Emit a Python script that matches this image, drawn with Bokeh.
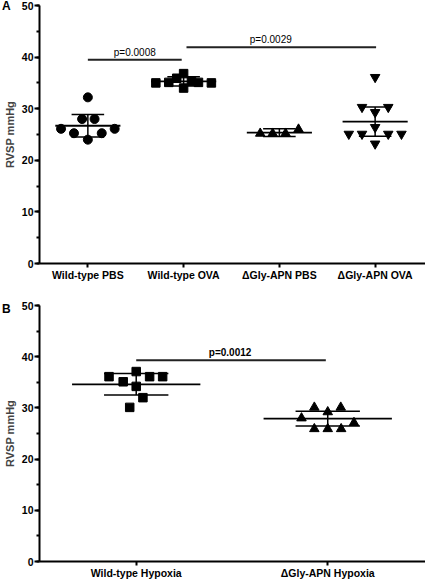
from bokeh.plotting import figure
from bokeh.models import Range1d, FixedTicker, SingleIntervalTicker, Div
from bokeh.layouts import column
from bokeh.embed import file_html
from bokeh.resources import INLINE
from bokeh.core.properties import value

# ---------------- Panel A data ----------------
a_categories = ["Wild-type PBS", "Wild-type OVA", "\u0394Gly-APN PBS", "\u0394Gly-APN OVA"]
a_markers = ["circle", "square", "triangle", "inverted_triangle"]

a_wt_pbs = [32.2, 28.0, 28.0, 26.1, 26.1, 25.25, 25.25, 24.0]
a_wt_pbs_dx = [0.0, -0.06, 0.07, -0.28, 0.28, -0.145, 0.145, 0.0]

a_wt_ova = [35.0, 35.1, 35.9, 36.8, 34.0, 35.3, 35.1, 35.0]
a_wt_ova_dx = [-0.29, -0.155, -0.072, 0.0, 0.0, 0.082, 0.155, 0.29]

a_ko_pbs = [25.2, 25.2, 25.2, 26.0]
a_ko_pbs_dx = [-0.2, -0.07, 0.065, 0.2]

a_ko_ova = [36.1, 30.3, 30.3, 29.3, 26.4, 25.1, 25.1, 25.1, 25.1, 23.2]
a_ko_ova_dx = [0.0, -0.137, 0.137, 0.0, 0.0, -0.275, -0.137, 0.137, 0.275, 0.0]

a_means = [26.7, 35.3, 25.35, 27.5]
a_sds = [2.2, 0.9, 0.75, 2.85]

a_sig_x0 = [1.0, 2.03]
a_sig_x1 = [1.98, 4.01]
a_sig_y = [39.5, 41.9]
a_sig_label_x = [1.49, 2.91]
a_sig_text = ["p=0.0008", "p=0.0029"]

# ---------------- Panel B data ----------------
b_categories = ["Wild-type Hypoxia", "\u0394Gly-APN Hypoxia"]
b_markers = ["square", "triangle"]

b_wt_hyp = [36.1, 35.1, 37.1, 34.2, 36.1, 36.1, 32.0, 30.1]
b_wt_hyp_dx = [-0.142, -0.068, 0.0, 0.0, 0.07, 0.138, 0.035, -0.034]

b_ko_hyp = [30.1, 30.1, 29.2, 28.0, 27.1, 25.9, 25.9, 25.9]
b_ko_hyp_dx = [-0.07, 0.068, 0.0, -0.137, 0.137, -0.07, 0.0, 0.07]

b_means = [34.6, 27.9]
b_sds = [2.1, 1.45]

b_sig_x0 = [1.0]
b_sig_x1 = [1.99]
b_sig_y = [39.3]
b_sig_label_x = [1.49]
b_sig_text = ["p=0.0012"]

panel_letters = ["A", "B"]
y_label = "RVSP mmHg"
FONT = "Liberation Sans"


def make_panel(cats, markers, groups, means, sds, sig, x_end, height, top, bottom,
               mean_half, sd_half, bold_p, msizes):
    p = figure(width=425, height=height, output_backend="svg", toolbar_location=None,
               x_range=Range1d(0.495, x_end), y_range=Range1d(0, 50),
               min_border_left=34, min_border_right=0, min_border_top=top,
               min_border_bottom=bottom)
    p.outline_line_color = None
    p.grid.visible = False
    p.background_fill_color = "white"
    p.border_fill_color = "white"

    xa = p.xaxis[0]
    xa.ticker = FixedTicker(ticks=list(range(1, len(cats) + 1)), minor_ticks=[])
    xa.major_label_overrides = {i + 1: c for i, c in enumerate(cats)}
    ya = p.yaxis[0]
    ya.ticker = SingleIntervalTicker(interval=10, num_minor_ticks=2)
    ya.axis_label = y_label
    ya.axis_label_text_font = FONT
    ya.axis_label_text_font_style = "bold"
    ya.axis_label_text_font_size = "11px"
    ya.axis_label_standoff = 3
    for ax in (xa, ya):
        ax.axis_line_width = 2
        ax.axis_line_color = "black"
        ax.major_tick_line_width = 2
        ax.minor_tick_line_width = 2
        ax.major_tick_in = 0
        ax.minor_tick_in = 0
        ax.major_label_text_font = FONT
        ax.major_label_text_font_style = "bold"
        ax.major_label_text_color = "black"
    xa.major_tick_out = 4
    xa.minor_tick_out = 0
    xa.major_label_standoff = 1
    xa.major_label_text_font_size = "10.5px"
    ya.major_tick_out = 5
    ya.minor_tick_out = 3
    ya.major_label_standoff = 1
    ya.major_label_text_font_size = "10.5px"

    for i, (vals, dxs) in enumerate(groups):
        xs = [i + 1 + d for d in dxs]
        p.scatter(xs, vals, marker=markers[i], size=msizes[markers[i]],
                  fill_color="black", line_color="black")

    idx = list(range(1, len(cats) + 1))
    p.segment(x0=[i - mean_half for i in idx], x1=[i + mean_half for i in idx],
              y0=means, y1=means, line_color="black", line_width=1.8)
    p.segment(x0=idx, x1=idx, y0=[m - s for m, s in zip(means, sds)],
              y1=[m + s for m, s in zip(means, sds)], line_color="black", line_width=1.5)
    for sign in (1, -1):
        yy = [m + sign * s for m, s in zip(means, sds)]
        p.segment(x0=[i - sd_half for i in idx], x1=[i + sd_half for i in idx],
                  y0=yy, y1=yy, line_color="black", line_width=1.5)

    x0, x1, ys, lx, txt = sig
    p.segment(x0=x0, x1=x1, y0=ys, y1=ys, line_color="#222222", line_width=2)
    p.text(x=lx, y=ys, text=txt, text_align="center", text_baseline="middle",
           y_offset=-7.5, text_font=value(FONT), text_font_size="10px",
           text_font_style="bold" if bold_p else "normal", text_color="black")
    return p


sizes = {"circle": 9, "square": 8.5, "triangle": 9.5, "inverted_triangle": 9.5}

pA = make_panel(a_categories, a_markers,
                [(a_wt_pbs, a_wt_pbs_dx), (a_wt_ova, a_wt_ova_dx),
                 (a_ko_pbs, a_ko_pbs_dx), (a_ko_ova, a_ko_ova_dx)],
                a_means, a_sds,
                (a_sig_x0, a_sig_x1, a_sig_y, a_sig_label_x, a_sig_text),
                0.495 + 391 / 97, 295, 5, 32, 0.34, 0.17, False, sizes)

pB = make_panel(b_categories, b_markers,
                [(b_wt_hyp, b_wt_hyp_dx), (b_ko_hyp, b_ko_hyp_dx)],
                b_means, b_sds,
                (b_sig_x0, b_sig_x1, b_sig_y, b_sig_label_x, b_sig_text),
                0.495 + 391 / 194, 286, 10, 18, 0.335, 0.168, True, sizes)


def letter_div(text, top_px):
    return Div(text=text, width=12, height=14,
               styles={"position": "absolute", "left": "-3px", "top": f"{top_px}px",
                       "font-family": "'Liberation Sans', Arial, sans-serif",
                       "font-weight": "bold", "font-size": "12px", "line-height": "14px",
                       "color": "black", "z-index": "10"})


divA = letter_div(panel_letters[0], -6)
divB = letter_div(panel_letters[1], 297)

layout = column(pA, pB, divA, divB, spacing=0)

open("out.html", "w").write(file_html(layout, INLINE))
